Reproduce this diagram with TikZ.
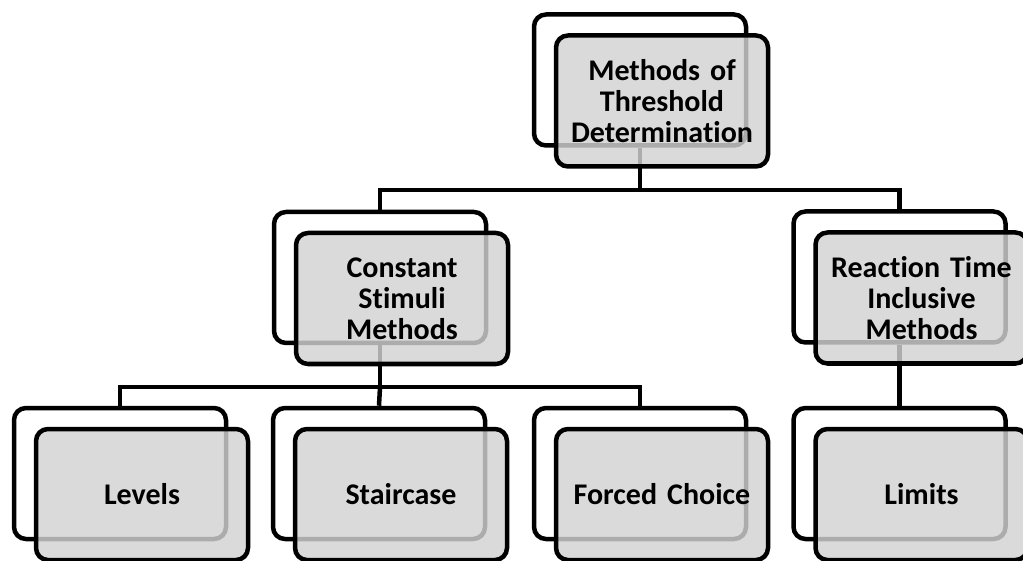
\documentclass[tikz,border=0pt]{standalone}
\usepackage{fontspec}
\setmainfont{Carlito}[Ligatures=NoCommon]
\definecolor{boxgray}{RGB}{210,210,210}
\tikzset{
  backbox/.style={draw=black, line width=4.5pt, rounded corners=12pt, fill=white,
    minimum width=212pt, minimum height=131pt, inner sep=0pt},
  frontbox/.style={draw=black, line width=4.5pt, rounded corners=12pt, fill=boxgray,
    fill opacity=0.82, draw opacity=1, text opacity=1,
    minimum width=212pt, minimum height=131pt, inner sep=0pt,
    align=center, text width=208pt, font=\fontsize{30}{31}\selectfont\bfseries},
  link/.style={draw=black, line width=4.5pt}
}
\begin{document}
\begin{tikzpicture}[x=1pt,y=-1pt]
\useasboundingbox (0,0) rectangle (1023,561);
\clip (0,0) rectangle (1023,561);
% back boxes
\node[backbox] (tb) at (640,80) {};
\node[backbox] (cb) at (380,277.5) {};
\node[backbox] (rb) at (899.5,277) {};
\node[backbox] (lb) at (120,473.5) {};
\node[backbox] (sb) at (379,473.5) {};
\node[backbox] (fb) at (640,473.5) {};
\node[backbox] (mb) at (899.5,473.5) {};
% connectors
\coordinate (bus1) at (640,190);
\coordinate (bus2) at (380,387);
\draw[link] (tb.south) -- (bus1);
\draw[link] (cb.north) |- (bus1) -| (rb.north);
\draw[link] (cb.south) -- (bus2);
\draw[link] (lb.north) |- (bus2) -| (fb.north);
\draw[link] (sb.north) -- (bus2);
\draw[link] (rb.south) -- (mb.north);
% front boxes
\node[frontbox] (tf) at (662,101) {Methods of\\Threshold\\Determination};
\node[frontbox] (cf) at (402,298.5) {Constant\\Stimuli\\Methods};
\node[frontbox] (rf) at (921.5,298) {Reaction Time\\Inclusive\\Methods};
\node[frontbox] (lf) at (142,494.5) {Levels};
\node[frontbox] (sf) at (401,494.5) {Staircase};
\node[frontbox] (ff) at (662,494.5) {Forced Choice};
\node[frontbox] (mf) at (921.5,494.5) {Limits};
\end{tikzpicture}
\end{document}
